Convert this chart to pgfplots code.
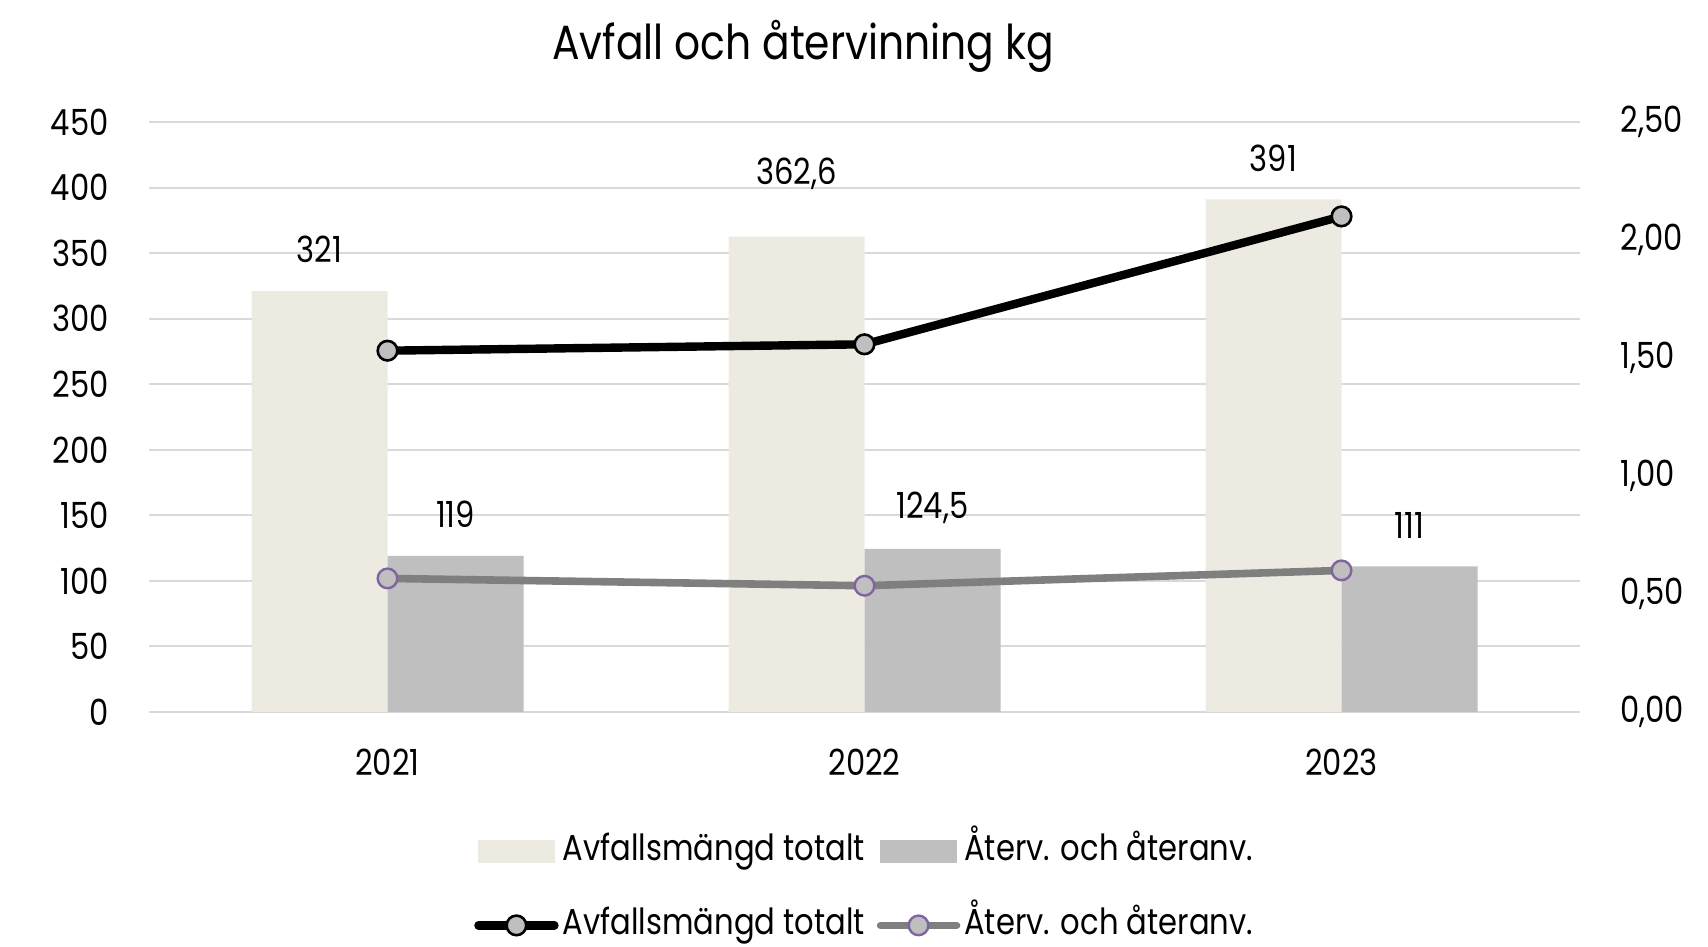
\documentclass[border=0pt]{standalone}
\usepackage{fontspec}
\setmainfont[FakeStretch=0.85]{Poppins}
\usepackage{pgfplots}
\usepackage{pgfplotstable}
\pgfplotsset{compat=1.18}
\definecolor{beige}{HTML}{EDEBE1}
\definecolor{barg}{HTML}{BFBFBF}
\definecolor{gridc}{HTML}{D9D9D9}
\definecolor{lineg}{HTML}{7F7F7F}
\definecolor{purp}{HTML}{8064A2}
\definecolor{markg}{HTML}{BFBFBF}

\pgfplotstableread{
x y off
0 321 20.7
1 362.6 31.6
2 391 20.7
}\tabA
\pgfplotstableread{
x y off
0 119 20.7
1 124.5 20.7
2 111 20.7
}\tabB
\pgfplotstableread{
x y
0 1.531
1 1.558
2 2.100
}\tabC
\pgfplotstableread{
x y
0 0.566
1 0.535
2 0.600
}\tabD

\newcommand{\tfont}{\fontsize{18}{21}\selectfont}
\begin{document}
\begin{tikzpicture}
\useasboundingbox (0,0) rectangle (854pt,473.5pt);
\pgfplotsset{
 common/.style={
  at={(74.5pt,117.5pt)}, anchor=south west,
  scale only axis, width=715.5pt, height=295pt,
  xmin=-0.5, xmax=2.5,
  axis line style={draw=none},
  major tick length=0pt,
  tick label style={font=\tfont},
  /pgf/number format/assume math mode=true,
  /pgf/number format/use comma,
  /pgf/number format/1000 sep={},
 }}
\begin{axis}[common,
  ymin=0, ymax=450, ytick={0,50,100,150,200,250,300,350,400,450},
  ymajorgrids, grid style={gridc, line width=1pt},
  xtick={0,1,2}, xticklabels={2021,2022,2023},
  xticklabel style={anchor=center, yshift=-25pt},
  yticklabel style={anchor=east, xshift=-16.7pt},
  ybar, bar width=68pt,
]
\addplot[fill=beige, draw=none, bar shift=-34pt,
  nodes near coords,
  visualization depends on={\thisrow{off} \as \myoff},
  every node near coord/.append style={anchor=center, yshift=\myoff pt, font=\tfont, black}]
  table[x=x,y=y] {\tabA};
\addplot[fill=barg, draw=none, bar shift=34pt,
  nodes near coords,
  visualization depends on={\thisrow{off} \as \myoff},
  every node near coord/.append style={anchor=center, yshift=\myoff pt, font=\tfont, black}]
  table[x=x,y=y] {\tabB};
\end{axis}
\begin{axis}[common,
  ymin=0, ymax=2.5, ytick={0,0.5,1,1.5,2,2.5},
  yticklabel pos=right,
  xtick=\empty,
  yticklabel style={anchor=west, xshift=16.7pt,
    /pgf/number format/.cd, fixed, fixed zerofill, precision=2, use comma},
  legend columns=2,
  legend style={at={(0.227,0)}, anchor=north west, yshift=-59pt,
    draw=none, fill=none, font=\tfont, inner sep=0pt,
    nodes={inner sep=2pt, text height=13pt, text depth=4pt},
    row sep=16pt,
    /tikz/every even column/.append style={column sep=4pt}},
]
\addlegendimage{legend image code/.code={\fill[beige] (0pt,-5.5pt) rectangle (38pt,5.5pt);}}
\addlegendentry{Avfallsmängd totalt}
\addlegendimage{legend image code/.code={\fill[barg] (0pt,-5.5pt) rectangle (38pt,5.5pt);}}
\addlegendentry{Återv. och återanv.}
\addplot[black, line width=4.2pt, mark=*, mark size=4.9pt,
  mark options={fill=markg, draw=black, line width=1.3pt},
  legend image code/.code={\draw[black, line width=4.2pt, line cap=round] (0pt,0pt) -- (38pt,0pt);
    \draw[fill=markg, draw=black, line width=1.3pt] (19pt,0pt) circle (4.9pt);}]
  table[x=x,y=y] {\tabC};
\addlegendentry{Avfallsmängd totalt}
\addplot[lineg, line width=3.8pt, mark=*, mark size=4.9pt,
  mark options={fill=markg, draw=purp, line width=1.2pt},
  legend image code/.code={\draw[lineg, line width=3.8pt, line cap=round] (0pt,0pt) -- (38pt,0pt);
    \draw[fill=markg, draw=purp, line width=1.2pt] (19pt,0pt) circle (4.9pt);}]
  table[x=x,y=y] {\tabD};
\addlegendentry{Återv. och återanv.}
\end{axis}
\node[anchor=base, font=\fontsize{24}{27}\selectfont] at (401.5pt,443.5pt) {Avfall och återvinning kg};
\end{tikzpicture}
\end{document}
